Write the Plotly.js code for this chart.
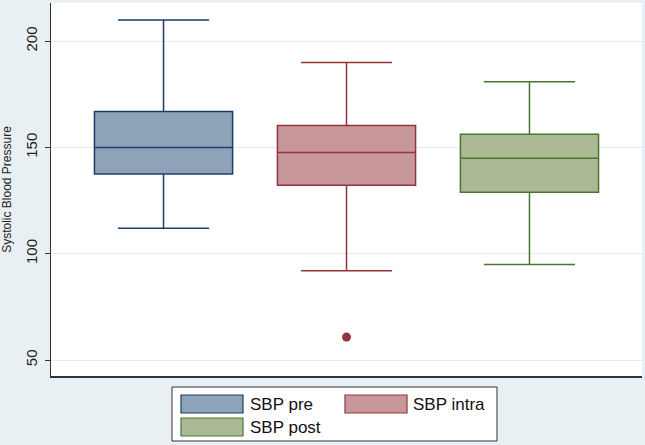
<!DOCTYPE html>
<html>
<head>
<meta charset="utf-8">
<script src="https://cdn.plot.ly/plotly-3.0.1.min.js"></script>
<style>
  html, body { margin: 0; padding: 0; background: #e9f0f3; }
  #plot { width: 645px; height: 445px; }
</style>
</head>
<body>
<div id="plot"></div>
<script>
// box statistics
var groups = ["SBP pre", "SBP intra", "SBP post"];
var upper  = [210, 190, 181];
var q3     = [167, 160.4, 156.3];
var median = [150, 147.7, 145];
var q1     = [137.5, 132.3, 128.9];
var lower  = [112, 92, 95];
var outlierGroup = ["SBP intra"];
var outlierVal   = [60.8];

var fills = ["#8da3b8", "#c8979b", "#abba95"];
var lines = ["#1f3b6b", "#92343c", "#4c7431"];

var traces = groups.map(function (g, i) {
  return {
    type: "box",
    name: g,
    x: [g],
    q1: [q1[i]],
    median: [median[i]],
    q3: [q3[i]],
    lowerfence: [lower[i]],
    upperfence: [upper[i]],
    width: 0.755,
    whiskerwidth: 0.66,
    fillcolor: fills[i],
    line: {color: lines[i], width: 1.5},
    hoverinfo: "skip",
    showlegend: false
  };
});

traces.push({
  type: "scatter",
  mode: "markers",
  x: outlierGroup,
  y: outlierVal,
  marker: {color: lines[1], size: 9},
  hoverinfo: "skip",
  showlegend: false
});

// plot area in pixels: x 51..642, y 3..376
function px(x) { return (x - 51) / 591; }
function py(y) { return (376 - y) / 373; }

// hand-made legend, like the Stata one
var shapes = [{
  type: "rect", xref: "paper", yref: "paper",
  x0: px(172), x1: px(497), y0: py(387), y1: py(441),
  fillcolor: "#ffffff", line: {color: "#333333", width: 1}
}];
var spots = [[181, 395, 248], [345, 395, 411], [181, 418, 248]];
var annotations = [];
groups.forEach(function (g, i) {
  var s = spots[i];
  shapes.push({
    type: "rect", xref: "paper", yref: "paper",
    x0: px(s[0]), x1: px(s[0] + 62), y0: py(s[1]), y1: py(s[1] + 18),
    fillcolor: fills[i], line: {color: lines[i], width: 1.2}
  });
  annotations.push({
    xref: "paper", yref: "paper",
    x: px(s[2]), y: py(s[1] + 9),
    xanchor: "left", yanchor: "middle",
    text: g, showarrow: false,
    font: {family: "Liberation Sans, Arial, sans-serif", size: 17, color: "#111111"}
  });
});

var layout = {
  width: 645,
  height: 445,
  margin: {l: 51, r: 3, t: 3, b: 69},
  paper_bgcolor: "#e9f0f3",
  plot_bgcolor: "#ffffff",
  showlegend: false,
  font: {family: "Liberation Sans, Arial, sans-serif", color: "#222222"},
  xaxis: {
    type: "category",
    range: [-0.615, 2.615],
    showticklabels: false,
    ticks: "",
    showgrid: false,
    zeroline: false,
    showline: true,
    linecolor: "#333333",
    linewidth: 1.5
  },
  yaxis: {
    range: [42.5, 218],
    tickvals: [50, 100, 150, 200],
    tickangle: -90,
    ticks: "outside",
    ticklen: 5,
    tickcolor: "#333333",
    tickfont: {size: 15, color: "#222222"},
    ticklabelstandoff: 2,
    showline: true,
    linecolor: "#333333",
    linewidth: 1.5,
    gridcolor: "#e4ecf0",
    zeroline: false,
    title: {text: "Systolic Blood Pressure", font: {size: 12, color: "#222222"}, standoff: 8}
  },
  shapes: shapes,
  annotations: annotations
};

Plotly.newPlot("plot", traces, layout, {displayModeBar: false, staticPlot: true});
</script>
</body>
</html>
